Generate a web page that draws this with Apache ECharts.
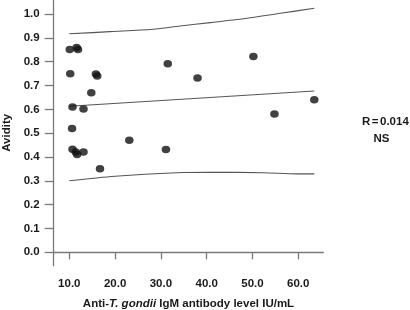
<!DOCTYPE html>
<html>
<head>
<meta charset="utf-8">
<script src="https://cdn.jsdelivr.net/npm/echarts@6/dist/echarts.min.js"></script>
<style>
  html, body { margin: 0; padding: 0; background: #fff; }
  #chart { width: 410px; height: 310px; }
</style>
</head>
<body>
<div id="chart"></div>
<script>
// scatter points: [IgM level, avidity]
const points = [
  [10.1, 0.851], [11.6, 0.859], [11.9, 0.851],
  [10.2, 0.749], [15.8, 0.748], [16.1, 0.740],
  [14.8, 0.670], [10.7, 0.610], [13.1, 0.601],
  [10.6, 0.520], [10.7, 0.432], [11.4, 0.421],
  [11.7, 0.410], [13.1, 0.421], [16.7, 0.351],
  [23.1, 0.470], [31.1, 0.431], [31.5, 0.791],
  [38.0, 0.731], [50.2, 0.822], [54.8, 0.580],
  [63.5, 0.640]
]

// regression line and confidence bands
const fitLine = [[10, 0.613], [63.5, 0.677]]
const upperBand = [[10, 0.917], [18.9, 0.926], [28.3, 0.936], [34.2, 0.950], [40.8, 0.964], [48.8, 0.982], [56.1, 1.003], [63.5, 1.024]]
const lowerBand = [[10, 0.300], [20, 0.319], [33.5, 0.334], [40.8, 0.336], [52.4, 0.334], [59.7, 0.329], [63.5, 0.329]]

const xTicks = [10, 20, 30, 40, 50, 60]
const yTicks = [0, 0.1, 0.2, 0.3, 0.4, 0.5, 0.6, 0.7, 0.8, 0.9, 1.0]

const font = '"Liberation Sans", Arial, Helvetica, sans-serif'
const axisColor = '#7a7a7a'
const textColor = '#1a1a1a'
const lineColor = '#555'

const chart = echarts.init(document.getElementById('chart'))

const bandLine = (data) => ({
  type: 'line',
  data: data,
  smooth: 0.3,
  showSymbol: false,
  silent: true,
  lineStyle: { color: lineColor, width: 1.1 },
  z: 1
})

chart.setOption({
  animation: false,
  textStyle: { fontFamily: font },
  grid: { left: 53.7, right: 86.7, top: 0, bottom: 44.3, outerBoundsMode: 'none', containLabel: false },
  xAxis: {
    type: 'value',
    min: 6.59,
    max: 65.47,
    name: '{b|Anti-}{i|T. gondii}{b| IgM antibody level IU/mL}',
    nameLocation: 'middle',
    nameGap: 32,
    nameTextStyle: {
      rich: {
        b: { fontFamily: font, fontSize: 11.5, fontWeight: 'bold', color: textColor },
        i: { fontFamily: font, fontSize: 11.5, fontWeight: 'bold', fontStyle: 'italic', color: textColor }
      }
    },
    axisLine: { show: true, lineStyle: { color: axisColor, width: 1.3 } },
    axisTick: { show: true, customValues: xTicks, length: 7, lineStyle: { color: axisColor, width: 1.3 } },
    axisLabel: {
      customValues: xTicks,
      formatter: (v) => v.toFixed(1),
      margin: 12,
      fontSize: 11.5,
      fontWeight: 'bold',
      color: textColor,
      fontFamily: font
    },
    splitLine: { show: false }
  },
  yAxis: {
    type: 'value',
    min: -0.0562,
    max: 1.0588,
    name: 'Avidity',
    nameLocation: 'middle',
    nameGap: 40,
    nameTextStyle: { fontSize: 11.5, fontWeight: 'bold', color: textColor, fontFamily: font },
    axisLine: { show: true, lineStyle: { color: axisColor, width: 1.3 } },
    axisTick: { show: true, customValues: yTicks, length: 9, lineStyle: { color: axisColor, width: 1.3 } },
    axisLabel: {
      customValues: yTicks,
      formatter: (v) => v.toFixed(1),
      margin: 14,
      fontSize: 11.5,
      fontWeight: 'bold',
      color: textColor,
      fontFamily: font
    },
    splitLine: { show: false }
  },
  graphic: [
    {
      type: 'text',
      left: 362,
      top: 115.5,
      style: {
        text: '{a|R}{e|=}{a|0.014}',
        rich: {
          a: { fontFamily: font, fontSize: 11.5, fontWeight: 'bold', fill: textColor },
          e: { fontFamily: font, fontSize: 11.5, fontWeight: 'bold', fill: textColor, padding: [0, 1.5, 0, 1.5] }
        }
      }
    },
    {
      type: 'text',
      left: 373.5,
      top: 133,
      style: { text: 'NS', fontFamily: font, fontSize: 11.5, fontWeight: 'bold', fill: textColor }
    }
  ],
  series: [
    bandLine(upperBand),
    bandLine(fitLine),
    bandLine(lowerBand),
    {
      type: 'scatter',
      data: points,
      symbol: 'circle',
      symbolSize: [8.5, 7.5],
      itemStyle: { color: '#111' },
      z: 3
    }
  ]
})
</script>
</body>
</html>
